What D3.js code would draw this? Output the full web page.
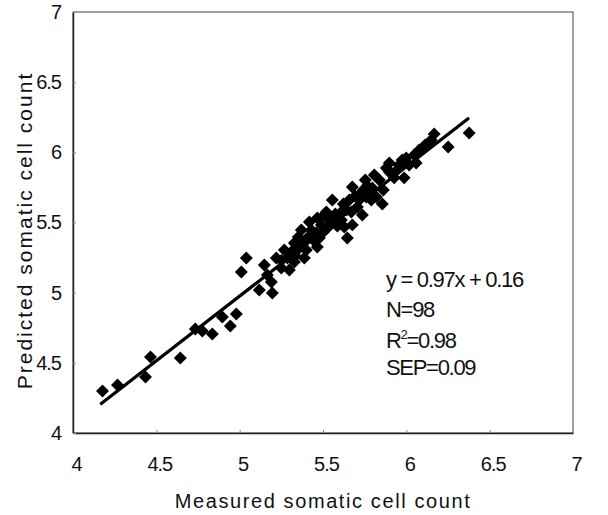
<!DOCTYPE html>
<html>
<head>
<meta charset="utf-8">
<script src="https://cdn.jsdelivr.net/npm/d3@7"></script>
<style>
  body { margin: 0; background: #fff; }
  text { font-family: "Liberation Sans", Arial, sans-serif; fill: #111; }
</style>
</head>
<body>
<div id="chart"></div>
<script>
// measured vs predicted somatic cell count (log scale values)
const measured = [
  4.177, 4.267, 4.435, 4.465, 4.644, 4.734, 4.776, 4.836, 4.896, 4.944,
  4.980, 5.010, 5.040, 5.118, 5.148, 5.190, 5.196, 5.220, 5.250, 5.298,
  5.328, 5.352, 5.370, 5.400, 5.400, 5.430, 5.460, 5.466, 5.490, 5.508,
  5.556, 5.568, 5.610, 5.628, 5.646, 5.676, 5.676, 5.706, 5.730, 5.736,
  5.754, 5.778, 5.796, 5.760, 5.808, 5.820, 5.856, 5.880, 5.898, 5.898,
  5.957, 5.975, 5.987, 5.999, 6.047, 6.059, 6.149, 6.167, 6.251, 6.377,
  5.520, 5.640, 5.268, 5.286, 5.310, 5.334, 5.358, 5.376, 5.418, 5.442,
  5.478, 5.502, 5.526, 5.538, 5.574, 5.586, 5.610, 5.622, 5.658, 5.670,
  5.694, 5.718, 5.742, 5.766, 5.790, 5.838, 5.862, 5.927, 5.945, 6.017,
  6.077, 6.113, 5.418, 5.466, 5.388, 5.328, 5.166, 5.250
];
const predicted = [
  4.299, 4.342, 4.399, 4.542, 4.535, 4.741, 4.727, 4.706, 4.827, 4.763,
  4.848, 5.148, 5.247, 5.019, 5.197, 5.076, 4.998, 5.247, 5.176, 5.162,
  5.354, 5.397, 5.447, 5.376, 5.304, 5.447, 5.425, 5.326, 5.483, 5.554,
  5.661, 5.504, 5.575, 5.468, 5.390, 5.753, 5.483, 5.611, 5.711, 5.554,
  5.803, 5.718, 5.746, 5.682, 5.839, 5.682, 5.632, 5.889, 5.924, 5.860,
  5.910, 5.946, 5.818, 5.960, 5.981, 5.924, 6.088, 6.131, 6.038, 6.138,
  5.575, 5.589, 5.304, 5.247, 5.290, 5.262, 5.319, 5.347, 5.404, 5.376,
  5.390, 5.433, 5.461, 5.518, 5.561, 5.475, 5.518, 5.632, 5.661, 5.575,
  5.689, 5.661, 5.732, 5.761, 5.661, 5.803, 5.732, 5.818, 5.875, 5.910,
  6.017, 6.053, 5.504, 5.532, 5.247, 5.219, 5.126, 5.230
];
// fitted line end points as drawn
const fitX = [4.17, 6.37];
const fitY = [4.21, 6.24];
const ticks = [4, 4.5, 5, 5.5, 6, 6.5, 7];
const stats = ["y = 0.97x + 0.16", "N=98", "R2=0.98", "SEP=0.09"];

const width = 608, height = 515;
const margin = {top: 12, right: 35, bottom: 82, left: 73};

const svg = d3.select('#chart').append('svg')
  .attr('width', width)
  .attr('height', height);

const x = d3.scaleLinear().domain([4, 7]).range([margin.left, width - margin.right]);
const y = d3.scaleLinear().domain([4, 7]).range([height - margin.bottom, margin.top]);

// frame
svg.append('rect')
  .attr('x', x(4)).attr('y', y(7))
  .attr('width', x(7) - x(4)).attr('height', y(4) - y(7))
  .attr('fill', 'none').attr('stroke', '#444').attr('stroke-width', 1);

const xAxis = svg.append('g')
  .attr('transform', `translate(0,${y(4)})`)
  .call(d3.axisBottom(x).tickValues(ticks).tickFormat(d => d).tickSize(-3).tickSizeOuter(0).tickPadding(24));
const yAxis = svg.append('g')
  .attr('transform', `translate(${x(4)},0)`)
  .call(d3.axisLeft(y).tickValues(ticks).tickFormat(d => d).tickSize(-3).tickSizeOuter(0).tickPadding(12));

[xAxis, yAxis].forEach(g => {
  g.select('.domain').attr('stroke', '#222').attr('stroke-width', 1.5);
  g.selectAll('.tick line').attr('stroke', '#888');
  g.selectAll('.tick text')
    .attr('font-size', 20)
    .attr('letter-spacing', -1)
    .attr('fill', '#111');
});
xAxis.selectAll('.tick text').attr('dx', 3);

// axis titles
svg.append('text')
  .attr('x', (x(4) + x(7)) / 2)
  .attr('y', 508)
  .attr('text-anchor', 'middle')
  .attr('font-size', 20)
  .attr('letter-spacing', 1.6)
  .text('Measured somatic cell count');

svg.append('text')
  .attr('transform', `translate(32,${(y(4) + y(7)) / 2 + 8}) rotate(-90)`)
  .attr('text-anchor', 'middle')
  .attr('font-size', 21)
  .attr('letter-spacing', 2)
  .text('Predicted somatic cell count');

// regression line
svg.append('line')
  .attr('x1', x(fitX[0])).attr('y1', y(fitY[0]))
  .attr('x2', x(fitX[1])).attr('y2', y(fitY[1]))
  .attr('stroke', '#000').attr('stroke-width', 3.2)
  .attr('stroke-linecap', 'round');

// points as diamonds
const diamond = d3.symbol().type(d3.symbolSquare).size(84);
svg.append('g').selectAll('path')
  .data(measured.map((m, i) => [m, predicted[i]]))
  .join('path')
  .attr('d', diamond)
  .attr('transform', d => `translate(${x(d[0])},${y(d[1])}) rotate(45)`)
  .attr('fill', '#000');

// statistics block
const note = svg.append('text')
  .attr('font-size', 22)
  .attr('letter-spacing', -1.3);
const lineYs = [287, 317, 348, 375];
stats.forEach((s, i) => {
  const t = note.append('tspan').attr('x', 386).attr('y', lineYs[i]);
  if (s.startsWith('R2')) {
    t.text('R');
    note.append('tspan').attr('dy', -9).attr('font-size', 13).text('2');
    note.append('tspan').attr('dy', 9).text(s.slice(2));
  } else {
    t.text(s);
  }
});
</script>
</body>
</html>
